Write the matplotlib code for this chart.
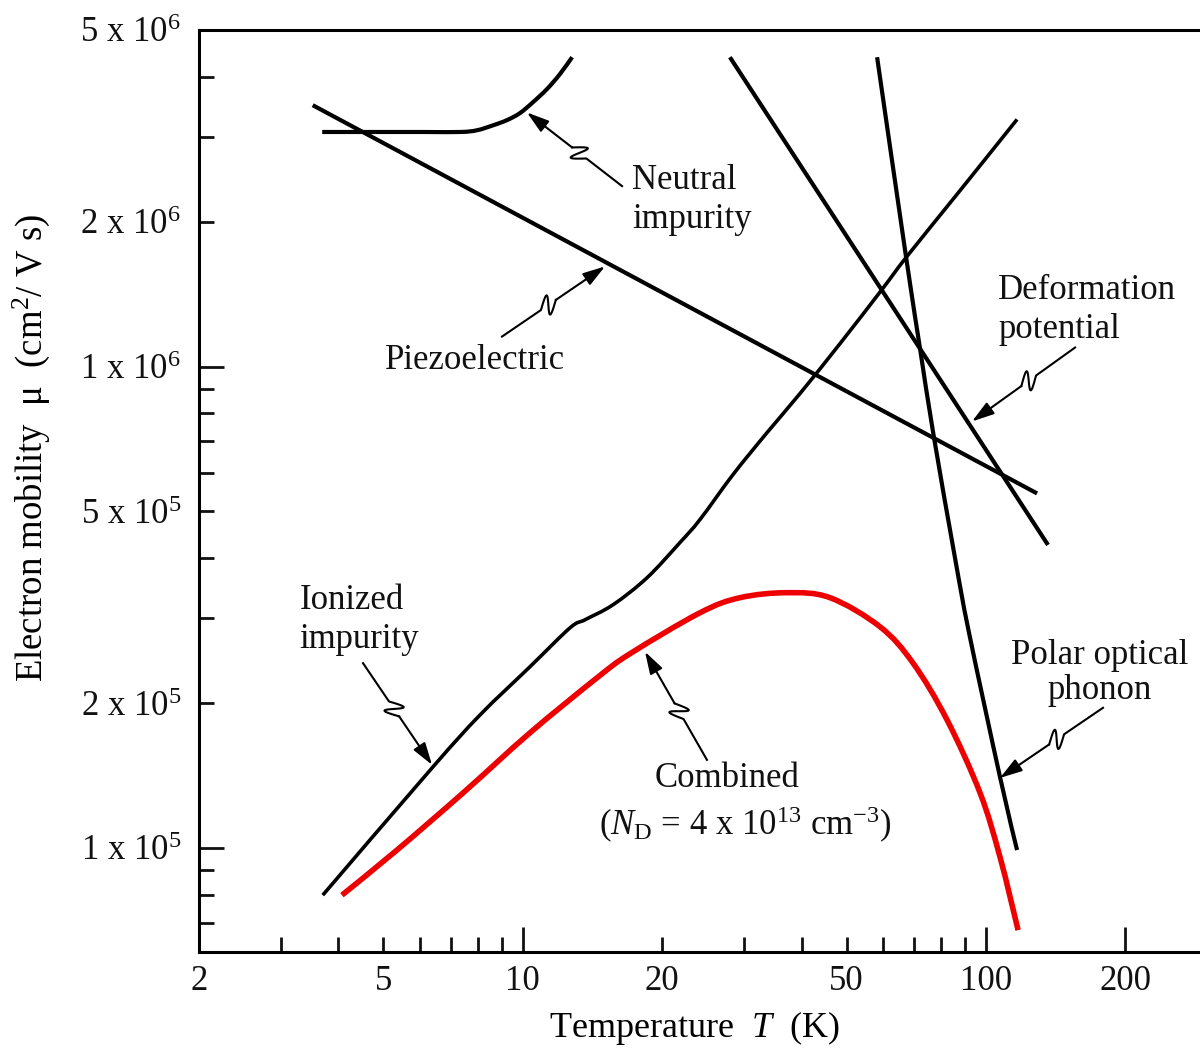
import numpy as np
import matplotlib
matplotlib.use("Agg")
import matplotlib.pyplot as plt
from matplotlib.path import Path
from matplotlib.patches import PathPatch

plt.rcParams['font.family'] = ['Liberation Serif', 'DejaVu Serif']
plt.rcParams['mathtext.fontset'] = 'custom'
plt.rcParams['mathtext.rm'] = 'Liberation Serif'
plt.rcParams['mathtext.it'] = 'Liberation Serif:italic'
plt.rcParams['mathtext.bf'] = 'Liberation Serif:bold'

# ---------------- data ----------------
T_piezo = [3.52, 128.9]
mu_piezo = [3.49e6, 5.45e5]

T_neutral = [3.69, 6.0, 7.32, 7.96, 8.63, 9.25, 9.86, 10.52, 11.28, 12.03, 12.78]
mu_neutral = [3.07e6, 3.07e6, 3.07e6, 3.095e6, 3.17e6, 3.25e6, 3.36e6, 3.54e6,
              3.77e6, 4.05e6, 4.39e6]

T_deform = [28.0, 136.1]
mu_deform = [4.39e6, 4.26e5]

T_polar = [58.2, 67.2, 72.1, 76.9, 85.7, 91.9, 107.2, 116.7]
mu_polar = [4.39e6, 1.69e6, 1.085e6, 7.29e5, 4.01e5, 2.80e5, 1.405e5, 9.9e4]

T_ionized = [3.70, 6.40, 8.09, 10.36, 12.65, 13.63, 15.66, 18.54, 21.85, 24.13,
             28.44, 33.68, 39.68, 48.41, 59.65, 67.5, 87.9, 116.7]
mu_ionized = [7.98e4, 1.474e5, 1.890e5, 2.378e5, 2.866e5, 2.979e5, 3.20e5, 3.64e5,
              4.31e5, 4.81e5, 5.965e5, 7.29e5, 8.79e5, 1.116e6, 1.446e6, 1.693e6,
              2.32e6, 3.26e6]

T_combined = [4.07, 5.35, 7.43, 10.36, 14.46, 17.04, 24.13, 29.44, 37.2, 46.05,
              59.06, 69.6, 82.4, 97.1, 107.2, 117.3]
mu_combined = [7.98e4, 9.9e4, 1.301e5, 1.734e5, 2.256e5, 2.532e5, 3.08e5, 3.31e5,
               3.39e5, 3.31e5, 2.88e5, 2.42e5, 1.845e5, 1.301e5, 9.58e4, 6.75e4]

x_major = [10, 100, 200]
x_major_labels = ['10', '100', '200']
x_minor = [2, 3, 4, 5, 6, 7, 8, 9, 20, 30, 40, 50, 60, 70, 80, 90]
x_minor_labels = ['2', '', '', '5', '', '', '', '', '20', '', '', '50', '', '', '', '']

y_major = [1e5, 1e6]
y_major_labels = [r'1 x 10$^{5}$', r'1 x 10$^{6}$']
y_minor = [7e4, 8e4, 9e4, 2e5, 3e5, 4e5, 5e5, 6e5, 7e5, 8e5, 9e5, 2e6, 3e6, 4e6, 5e6]
y_minor_labels = ['', '', '', r'2 x 10$^{5}$', '', '', r'5 x 10$^{5}$', '', '', '', '',
                  r'2 x 10$^{6}$', '', '', r'5 x 10$^{6}$']

# ---------------- figure ----------------
W, H = 1200, 1050
fig = plt.figure(figsize=(W / 100, H / 100), dpi=100)
ax = fig.add_axes([199 / W, 98 / H, 1008 / W, 922 / H])
ax.set_xscale('log')
ax.set_yscale('log')
ax.set_xlim(2, 300)
ax.set_ylim(6.08e4, 5e6)

FS = 25
ax.set_xticks(x_major, labels=x_major_labels)
ax.set_xticks(x_minor, labels=x_minor_labels, minor=True)
ax.set_yticks(y_major, labels=y_major_labels)
ax.set_yticks(y_minor, labels=y_minor_labels, minor=True)
ax.tick_params(which='both', direction='in', top=False, right=False,
               width=2.0, labelsize=FS, colors='#111111')
ax.tick_params(which='major', length=18)
ax.tick_params(which='minor', length=11)
ax.tick_params(axis='y', which='both', pad=13)
ax.tick_params(axis='x', which='both', pad=9)
for side in ['left', 'bottom', 'top']:
    ax.spines[side].set_linewidth(2.2)
ax.spines['right'].set_visible(False)


def smooth_curve(T, mu, color='k', lw=3.0):
    """Smooth Bezier line (drawn in log-log space) through the read points."""
    lx = np.log10(np.asarray(T, float))
    ly = np.log10(np.asarray(mu, float))
    P = np.column_stack([lx, ly])
    Pe = np.vstack([P[0], P, P[-1]])
    verts = [P[0]]
    codes = [Path.MOVETO]
    for i in range(len(P) - 1):
        p0, p1, p2, p3 = Pe[i], Pe[i + 1], Pe[i + 2], Pe[i + 3]
        c1 = p1 + (p2 - p0) / 6.0
        c2 = p2 - (p3 - p1) / 6.0
        verts += [c1, c2, p2]
        codes += [Path.CURVE4] * 3
    verts = 10 ** np.array(verts)
    patch = PathPatch(Path(verts, codes), facecolor='none', edgecolor=color,
                      lw=lw, capstyle='butt', joinstyle='round',
                      transform=ax.transData)
    ax.add_patch(patch)


ax.plot(T_piezo, mu_piezo, color='k', lw=3.0, solid_capstyle='butt')
ax.plot(T_deform, mu_deform, color='k', lw=3.0, solid_capstyle='butt')
smooth_curve(T_neutral, mu_neutral, lw=3.0)
smooth_curve(T_polar, mu_polar, lw=3.0)
smooth_curve(T_ionized, mu_ionized, lw=2.6)
smooth_curve(T_combined, mu_combined, color='#ee0000', lw=4.0)

ax.set_xlabel(r'Temperature  $T$  (K)', fontsize=26)
ax.xaxis.set_label_coords(0.492, -0.062)
ax.set_ylabel(r'Electron mobility  μ  (cm$^{2}$/ V s)', fontsize=26.5)
ax.yaxis.set_label_coords(-0.146, 0.547)


def squiggle_arrow(tail, head, frac=0.45, L=18.0, amp=9.0, back=0.45):
    tr = ax.transData
    P0 = tr.transform(tail)
    P1 = tr.transform(head)
    v = P1 - P0
    dist = np.hypot(*v)
    d = v / dist
    n = np.array([-d[1], d[0]])
    C = P0 + frac * v
    s = np.linspace(0, 1, 100)
    along = L * (s - 0.5) + back * L * np.sin(2 * np.pi * s)
    perp = amp * np.sin(2 * np.pi * s)
    wig = C[None, :] + np.outer(along, d) + np.outer(perp, n)
    pts = np.vstack([P0, wig])
    dat = tr.inverted().transform(pts)
    ax.plot(dat[:, 0], dat[:, 1], color='k', lw=1.5, solid_joinstyle='round')
    B = tr.inverted().transform(C + d * L / 2)
    ax.annotate('', xy=head, xytext=B, xycoords='data', textcoords='data',
                arrowprops=dict(arrowstyle='-|>,head_length=0.9,head_width=0.28',
                                mutation_scale=15, color='k', lw=1.5,
                                shrinkA=0, shrinkB=0))


# arrows (tail, head) in data coordinates
squiggle_arrow((16.38, 2.37e6), (10.21, 3.37e6))        # neutral
squiggle_arrow((9.02, 1.154e6), (15.05, 1.614e6))       # piezo
squiggle_arrow((155.7, 1.095e6), (93.3, 7.69e5))        # deformation
squiggle_arrow((4.52, 2.42e5), (6.37, 1.488e5))         # ionized
squiggle_arrow((24.98, 1.524e5), (18.36, 2.556e5))      # combined
squiggle_arrow((178.9, 1.955e5), (107.2, 1.398e5))      # polar

tkw = dict(fontsize=FS, color='#111111')
ax.text(17.2, 2.22e6, 'Neutral\nimpurity', ha='left', va='center', linespacing=1.25, **tkw)
ax.text(5.04, 1.029e6, 'Piezoelectric', ha='left', va='center', **tkw)
ax.text(106.2, 1.31e6, 'Deformation\npotential', ha='left', va='center', linespacing=1.25, **tkw)
ax.text(3.30, 2.98e5, 'Ionized\nimpurity', ha='left', va='center', linespacing=1.25, **tkw)
ax.text(27.6, 1.392e5, 'Combined', ha='center', va='center', **tkw)
ax.text(30.3, 1.116e5, r'($N_{\rm D}$ = 4 x 10$^{13}$ cm$^{-3}$)', ha='center',
        va='center', **tkw)
ax.text(176.3, 2.31e5, 'Polar optical\nphonon', ha='center', va='center',
        multialignment='center', linespacing=1.08, **tkw)

fig.savefig('out.png', dpi=100)
